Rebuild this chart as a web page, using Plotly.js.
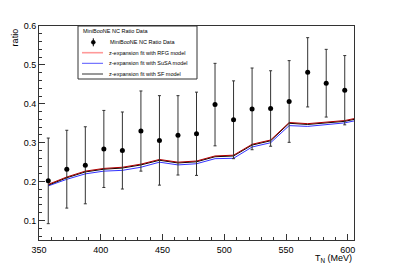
<!DOCTYPE html>
<html><head><meta charset="utf-8">
<script src="https://cdn.plot.ly/plotly-3.0.1.min.js"></script>
<style>html,body{margin:0;padding:0;background:#fff}#c{width:394px;height:267px}</style>
</head><body><div id="c"></div>
<script>
const tn = [357.5,372.5,387.5,402.5,417.5,432.5,447.5,462.5,477.5,492.5,507.5,522.5,537.5,552.5,567.5,582.5,597.5];
const ratioData = [0.202,0.232,0.242,0.284,0.280,0.330,0.306,0.319,0.323,0.398,0.359,0.387,0.388,0.406,0.481,0.453,0.435];
const ratioErr  = [0.110,0.100,0.099,0.099,0.099,0.103,0.115,0.102,0.107,0.106,0.100,0.105,0.097,0.105,0.089,0.087,0.089];
const tnModel = [357.5,372.5,387.5,402.5,417.5,432.5,447.5,462.5,477.5,492.5,507.5,522.5,537.5,552.5,567.5,582.5,597.5,612.5];
const rfg  = [0.193,0.212,0.227,0.234,0.237,0.245,0.257,0.250,0.253,0.266,0.268,0.296,0.307,0.352,0.349,0.353,0.357,0.367];
const susa = [0.189,0.206,0.220,0.227,0.229,0.237,0.250,0.243,0.246,0.259,0.260,0.289,0.300,0.344,0.342,0.346,0.351,0.361];
const sf   = [0.191,0.210,0.225,0.232,0.235,0.243,0.255,0.248,0.251,0.264,0.266,0.294,0.305,0.350,0.347,0.351,0.355,0.365];
const legendHeader = 'MiniBooNE NC Ratio Data';
const legendLabels = ['MiniBooNE NC Ratio Data','z-expansion fit with RFG model','z-expansion fit with SuSA model','z-expansion fit with SF model'];

const traces = [
  {x: tnModel, y: susa, type:'scatter', mode:'lines', name:legendLabels[2], line:{color:'#3333ff', width:1}},
  {x: tnModel, y: sf, type:'scatter', mode:'lines', name:legendLabels[3], line:{color:'#000', width:1}},
  {x: tnModel, y: rfg, type:'scatter', mode:'lines', name:legendLabels[1], line:{color:'#b00000', width:1}},
  {x: tn, y: ratioData, type:'scatter', mode:'markers', name:legendLabels[0],
   marker:{color:'#000', size:5},
   error_y:{type:'data', array: ratioErr, visible:true, color:'#333', thickness:1, width:1.5}}
];

const L=39, R=354, T=26, B=240;
const px = v => (v-L)/(R-L);
const py = v => (B-v)/(B-T);
const shapes = [
  {type:'rect', xref:'paper', yref:'paper', x0:px(78), x1:px(197), y0:py(79), y1:py(26), fillcolor:'#fff', line:{color:'#333', width:1}, layer:'above'}
];
const rowY = [42.3, 52.7, 63.3, 74];
const sampleColors = [null, '#ff9999', '#5555ff', '#333'];
for (let i=1;i<4;i++) {
  shapes.push({type:'line', xref:'paper', yref:'paper', x0:px(82), x1:px(103), y0:py(rowY[i]), y1:py(rowY[i]), line:{color:sampleColors[i], width: i===1?1.6:1}, layer:'above'});
}
shapes.push({type:'line', xref:'paper', yref:'paper', x0:px(93.3), x1:px(93.3), y0:py(rowY[0]-4), y1:py(rowY[0]+4), line:{color:'#000', width:1}, layer:'above'});
shapes.push({type:'circle', xref:'paper', yref:'paper', x0:px(91.3), x1:px(95.3), y0:py(rowY[0]+2), y1:py(rowY[0]-2), fillcolor:'#000', line:{color:'#000', width:0.5}, layer:'above'});

const annotations = [
  {text:'ratio', xref:'paper', yref:'paper', x:-0.075, y:1, xanchor:'center', yanchor:'top', textangle:-90, showarrow:false, font:{size:9}},
  {text:'T<sub>N</sub> (MeV)', xref:'paper', yref:'paper', x:1, y:py(266), xanchor:'right', yanchor:'bottom', showarrow:false, font:{size:9}},
  {text:legendHeader, xref:'paper', yref:'paper', x:px(80.5), y:py(31.5), xanchor:'left', yanchor:'middle', showarrow:false, font:{size:5.5}}
];
for (let i=0;i<4;i++) {
  annotations.push({text:legendLabels[i], xref:'paper', yref:'paper', x:px(i===0?107.5:106.5), y:py(rowY[i]), xanchor:'left', yanchor:'middle', showarrow:false, font:{size:5.5}});
}

const layout = {
  width:394, height:267,
  margin:{l:L, r:394-R, t:T, b:267-B},
  paper_bgcolor:'#fff', plot_bgcolor:'#fff',
  font:{family:'Liberation Sans, Arial, sans-serif', color:'#000', size:9},
  showlegend:false,
  xaxis:{range:[350,605], showgrid:false, zeroline:false, showline:true, linecolor:'#333', linewidth:1, mirror:true,
    ticks:'inside', ticklen:6, tickcolor:'#333', dtick:50, tick0:350, ticklabelstandoff:1,
    minor:{ticks:'inside', ticklen:3, dtick:10, tickcolor:'#333'}, tickfont:{size:9}},
  yaxis:{range:[0.05,0.6], showgrid:false, zeroline:false, showline:true, linecolor:'#333', linewidth:1, mirror:true,
    ticks:'inside', ticklen:6, tickcolor:'#333', dtick:0.1, tick0:0, tickformat:'.1f',
    minor:{ticks:'inside', ticklen:3, dtick:0.02, tickcolor:'#333'}, tickfont:{size:9}},
  shapes: shapes,
  annotations: annotations
};
Plotly.newPlot('c', traces, layout, {displayModeBar:false, staticPlot:true});
</script></body></html>
